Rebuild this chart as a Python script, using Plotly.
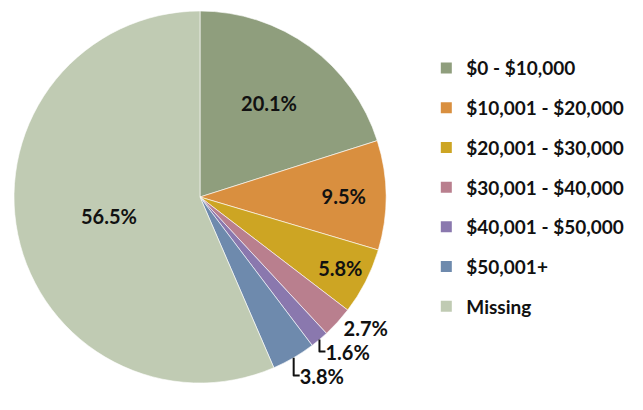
import plotly.graph_objects as go

categories = ["$0 - $10,000", "$10,001 - $20,000", "$20,001 - $30,000",
              "$30,001 - $40,000", "$40,001 - $50,000", "$50,001+", "Missing"]
values = [20.1, 9.5, 5.8, 2.7, 1.6, 3.8, 56.5]
colors = ["#8F9E7D", "#D98F3F", "#CDA523", "#B97F8E", "#8A78AE", "#6E8AAD", "#C0CBB3"]
text_positions = ["inside", "inside", "inside", "outside", "outside", "outside", "inside"]

W, H = 643, 410
cx, cy, r = 200, 197, 186

fig = go.Figure()
fig.add_trace(go.Pie(
    labels=categories,
    values=values,
    sort=False,
    direction="clockwise",
    rotation=0,
    marker=dict(colors=colors, line=dict(color="rgba(255,255,255,0.6)", width=1)),
    texttemplate="%{value:.1f}%",
    textposition=text_positions,
    insidetextorientation="horizontal",
    textfont=dict(family="Lato", size=20, color="#111111", weight="bold"),
    outsidetextfont=dict(family="Lato", size=20, color="#111111", weight="bold"),
    showlegend=False,
    hoverinfo="label+percent",
    domain=dict(x=[(cx - r) / W, (cx + r) / W], y=[(H - cy - r) / H, (H - cy + r) / H]),
))

for name, col in zip(categories, colors):
    fig.add_trace(go.Scatter(
        x=[None], y=[None], mode="markers", name=name,
        marker=dict(symbol="square", size=11, color=col),
        legendgroup=name, showlegend=True,
    ))

fig.update_layout(
    width=W, height=H,
    margin=dict(l=0, r=0, t=0, b=0),
    paper_bgcolor="white", plot_bgcolor="white",
    xaxis=dict(visible=False), yaxis=dict(visible=False),
    legend=dict(
        x=0.663, y=0.88, xanchor="left", yanchor="top",
        font=dict(family="Lato", size=19, color="#111111", weight="bold"),
        tracegroupgap=12, itemwidth=30,
        bgcolor="rgba(0,0,0,0)",
    ),
)

fig.write_html("out.html", config={"displayModeBar": False},
               post_script="document.body.style.margin='0';document.body.style.overflow='hidden';")
